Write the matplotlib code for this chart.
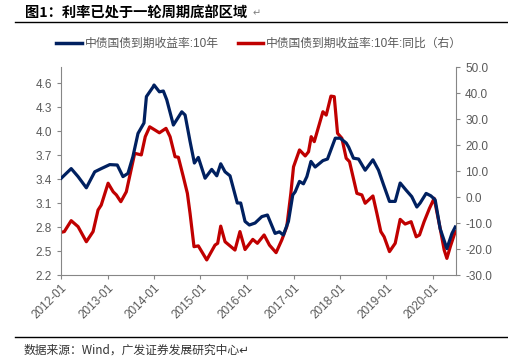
import numpy as np
import pandas as pd
import matplotlib
matplotlib.use("Agg")
import matplotlib.pyplot as plt
import matplotlib.dates as mdates
from matplotlib.lines import Line2D

plt.rcParams['font.family'] = ['Liberation Sans', 'Noto Sans CJK SC', 'DejaVu Sans']

# 中债国债到期收益率:10年 (%)
yld_dates = ["2012-01-03", "2012-03-21", "2012-05-14", "2012-07-18", "2012-09-22", "2012-11-12",
             "2013-01-18", "2013-03-18", "2013-05-02", "2013-06-10", "2013-07-19", "2013-08-28",
             "2013-10-14", "2013-11-02", "2013-12-24", "2014-01-01", "2014-02-12", "2014-03-15",
             "2014-04-11", "2014-06-02", "2014-08-07", "2014-09-02", "2014-10-11", "2014-11-14",
             "2014-12-15", "2015-02-06", "2015-03-30", "2015-05-09", "2015-06-09", "2015-07-13",
             "2015-08-21", "2015-10-17", "2015-11-13", "2015-12-17", "2016-01-20", "2016-03-05",
             "2016-04-27", "2016-06-10", "2016-08-09", "2016-09-12", "2016-10-13", "2016-11-22",
             "2016-12-26", "2017-01-14", "2017-02-17", "2017-03-20", "2017-04-16", "2017-05-18",
             "2017-06-20", "2017-08-20", "2017-09-25", "2017-11-25", "2018-01-03", "2018-02-19",
             "2018-03-10", "2018-04-17", "2018-05-27", "2018-07-18", "2018-09-17", "2018-10-31",
             "2018-12-09", "2019-01-25", "2019-03-11", "2019-04-19", "2019-06-05", "2019-07-19",
             "2019-08-28", "2019-09-23", "2019-11-09", "2019-12-16", "2020-01-19", "2020-02-27",
             "2020-04-20", "2020-05-30", "2020-06-25"]
yld = [3.41, 3.53, 3.43, 3.29, 3.49, 3.53,
       3.58, 3.575, 3.43, 3.47, 3.68, 3.97,
       4.10, 4.43, 4.55, 4.575, 4.49, 4.50,
       4.39, 4.075, 4.24, 4.20, 3.87, 3.60,
       3.67, 3.41, 3.52, 3.44, 3.59, 3.49,
       3.44, 3.10, 3.10, 2.87, 2.825, 2.85,
       2.93, 2.95, 2.72, 2.74, 2.70, 2.87,
       3.20, 3.24, 3.37, 3.34, 3.43, 3.62,
       3.55, 3.63, 3.65, 3.91, 3.91, 3.85,
       3.80, 3.66, 3.65, 3.51, 3.64, 3.51,
       3.33, 3.12, 3.12, 3.35, 3.26, 3.18,
       3.05, 3.10, 3.22, 3.19, 3.14, 2.78,
       2.53, 2.72, 2.80]

# 中债国债到期收益率:10年:同比 (%, 右轴)
yoy_dates = ["2012-01-01", "2012-01-27", "2012-03-21", "2012-05-14", "2012-07-18", "2012-09-09",
             "2012-10-18", "2012-11-12", "2013-01-05", "2013-02-14", "2013-03-11", "2013-04-15",
             "2013-05-28", "2013-08-02", "2013-09-23", "2013-10-24", "2013-11-28", "2014-01-07",
             "2014-02-12", "2014-04-05", "2014-05-07", "2014-06-15", "2014-07-11", "2014-08-19",
             "2014-09-20", "2014-10-11", "2014-11-11", "2014-12-15", "2015-02-19", "2015-04-25",
             "2015-05-16", "2015-06-09", "2015-07-13", "2015-09-29", "2015-11-07", "2015-12-17",
             "2016-02-16", "2016-03-23", "2016-05-15", "2016-06-26", "2016-08-17", "2016-10-01",
             "2016-11-09", "2016-12-11", "2017-01-01", "2017-02-17", "2017-04-03", "2017-04-29",
             "2017-05-20", "2017-06-13", "2017-08-20", "2017-09-15", "2017-10-22", "2017-11-17",
             "2017-12-13", "2018-01-16", "2018-02-19", "2018-03-17", "2018-05-14", "2018-06-22",
             "2018-07-18", "2018-09-17", "2018-10-18", "2018-11-18", "2018-12-14", "2019-01-25",
             "2019-03-11", "2019-04-19", "2019-05-28", "2019-07-14", "2019-08-23", "2019-09-18",
             "2019-10-24", "2019-12-05", "2020-01-11", "2020-02-27", "2020-03-30", "2020-04-20",
             "2020-05-17", "2020-06-25"]
yoy = [-13.6, -13.3, -9.1, -11.4, -17.2, -13.3,
       -5.0, -3.1, 5.3, 2.0, 0.8, -1.8,
       2.0, 16.8, 16.2, 23.2, 27.0, 25.8,
       24.7, 26.4, 23.2, 15.5, 15.3, 7.8,
       1.4, -6.3, -19.1, -18.8, -24.2, -18.5,
       -17.8, -11.2, -17.2, -20.4, -13.3, -20.2,
       -16.3, -17.8, -14.6, -18.5, -21.4, -16.5,
       -11.4, 1.4, 11.6, 18.1, 15.8, 17.4,
       23.2, 21.3, 32.8, 31.5, 38.8, 38.6,
       24.5, 22.6, 14.9, 13.6, 1.4, 0.8,
       -2.4, 0.4, -6.3, -13.3, -15.3, -21.0,
       -17.8, -8.6, -10.4, -9.5, -15.3, -14.6,
       -9.5, -4.4, -0.5, -12.0, -20.4, -23.6,
       -19.1, -13.3]

left_ticks = [2.2, 2.5, 2.8, 3.1, 3.4, 3.7, 4.0, 4.3, 4.6]
right_ticks = [-30, -20, -10, 0, 10, 20, 30, 40, 50]

blue = '#002060'
red = '#C00000'
gray = '#595959'
axc = '#868686'

fig = plt.figure(figsize=(5.08, 3.62), dpi=100)
ax = fig.add_axes([0.1201, 0.2403, 0.7776, 0.5746])
ax2 = ax.twinx()

ax.plot(pd.to_datetime(yld_dates), yld, color=blue, lw=2.3, solid_joinstyle='round', zorder=3)
ax2.plot(pd.to_datetime(yoy_dates), yoy, color=red, lw=2.3, solid_joinstyle='round', zorder=2)
ax.set_zorder(ax2.get_zorder() + 1)
ax.patch.set_visible(False)

ax.set_xlim(pd.Timestamp("2012-01-01"), pd.Timestamp("2020-07-01"))
ax.set_ylim(2.2, 4.8)
ax2.set_ylim(-30, 50)
ax.set_yticks(left_ticks)
ax.set_yticklabels(['%.1f' % v for v in left_ticks])
ax2.set_yticks(right_ticks)
ax2.set_yticklabels(['%.1f' % v for v in right_ticks])

ax.xaxis.set_major_locator(mdates.YearLocator())
ax.xaxis.set_major_formatter(mdates.DateFormatter('%Y-%m'))
for lbl in ax.get_xticklabels():
    lbl.set_rotation(45)
    lbl.set_ha('right')
    lbl.set_rotation_mode('anchor')

for a in (ax, ax2):
    for s in a.spines.values():
        s.set_color(axc)
        s.set_linewidth(0.8)
    a.spines['top'].set_visible(False)
    a.tick_params(colors=axc, labelcolor=gray, labelsize=8.5, length=3, width=0.8)
ax.spines['right'].set_visible(False)
ax2.spines['left'].set_visible(False)
ax2.spines['bottom'].set_visible(False)
ax.tick_params(axis='x', pad=2)

handles = [Line2D([], [], color=blue, lw=2.5), Line2D([], [], color=red, lw=2.5)]
labels = ['中债国债到期收益率:10年', '中债国债到期收益率:10年:同比（右）']
fig.legend(handles, labels, loc='center', bbox_to_anchor=(0.51, 0.878), ncol=2, frameon=False,
           fontsize=8.5, labelcolor=gray, handlelength=2.2, handletextpad=0.2, columnspacing=1.6)

fig.text(0.05, 0.962, '图1：利率已处于一轮周期底部区域', fontsize=10.3, fontweight='bold',
         family=['Noto Sans CJK SC', 'DejaVu Sans'], va='center', color='black')
fig.text(0.497, 0.962, '↵', fontsize=7, color='#7f7f7f', va='center', family=['DejaVu Sans'])
fig.add_artist(Line2D([0.03, 1.0], [0.938, 0.938], color='black', lw=1.0))
fig.add_artist(Line2D([0.03, 1.0], [0.069, 0.069], color='black', lw=1.0))
fig.text(0.047, 0.033, '数据来源：Wind，广发证券发展研究中心↵', fontsize=8.5,
         family=['Noto Sans CJK SC', 'DejaVu Sans'], va='center', color='#333333')

fig.savefig('out.png', dpi=100)
